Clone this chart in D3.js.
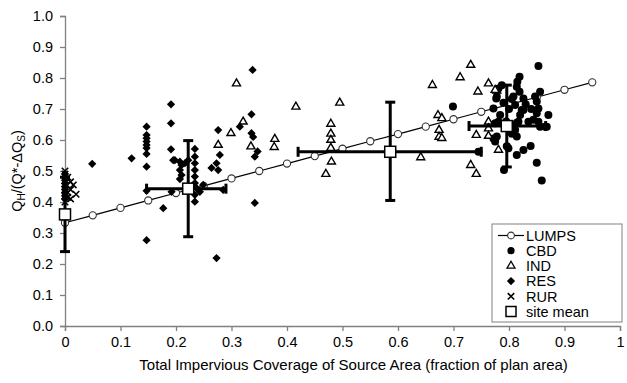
<!DOCTYPE html>
<html>
<head>
<meta charset="utf-8">
<script src="https://cdn.jsdelivr.net/npm/d3@7"></script>
<style>
  body { margin: 0; background: #fff; }
  text { font-family: "Liberation Sans", Arial, sans-serif; }
</style>
</head>
<body>
<script>
// LUMPS model curve
const lumpsX = [0, 0.05, 0.1, 0.15, 0.2, 0.25, 0.3, 0.35, 0.4, 0.45, 0.5, 0.55, 0.6, 0.65, 0.7, 0.75, 0.8, 0.85, 0.9, 0.95];
const lumpsY = [0.333, 0.357, 0.381, 0.405, 0.429, 0.452, 0.476, 0.5, 0.524, 0.548, 0.572, 0.596, 0.619, 0.643, 0.667, 0.691, 0.714, 0.738, 0.762, 0.786];

// observations [x, y]
const cbd = [
  [0.853, 0.839], [0.819, 0.804], [0.815, 0.788], [0.787, 0.777], [0.781, 0.766], [0.814, 0.772],
  [0.819, 0.756], [0.856, 0.756], [0.777, 0.734], [0.805, 0.732], [0.826, 0.734], [0.847, 0.74],
  [0.85, 0.724], [0.699, 0.708], [0.772, 0.702], [0.811, 0.713], [0.823, 0.697], [0.853, 0.702],
  [0.85, 0.686], [0.871, 0.681], [0.784, 0.681], [0.82, 0.681], [0.781, 0.659], [0.814, 0.656],
  [0.835, 0.659], [0.853, 0.659], [0.868, 0.643], [0.856, 0.643], [0.811, 0.632], [0.814, 0.611],
  [0.778, 0.611], [0.775, 0.595], [0.745, 0.562], [0.799, 0.573], [0.839, 0.581], [0.826, 0.568],
  [0.814, 0.552], [0.85, 0.527], [0.791, 0.503], [0.859, 0.469], [0.778, 0.74], [0.808, 0.74],
  [0.826, 0.697], [0.817, 0.659], [0.844, 0.665], [0.865, 0.643], [0.775, 0.654], [0.772, 0.605],
  [0.79, 0.72], [0.8, 0.7], [0.83, 0.715], [0.795, 0.66], [0.84, 0.7], [0.805, 0.62], [0.796, 0.58]
];
const ind = [
  [0.309, 0.782], [0.321, 0.659], [0.299, 0.622], [0.276, 0.584], [0.335, 0.579], [0.416, 0.707],
  [0.495, 0.72], [0.378, 0.603], [0.377, 0.577], [0.479, 0.652], [0.479, 0.62], [0.479, 0.6],
  [0.479, 0.574], [0.48, 0.53], [0.47, 0.49], [0.662, 0.777], [0.672, 0.68], [0.674, 0.632],
  [0.674, 0.61], [0.641, 0.544], [0.731, 0.842], [0.712, 0.802], [0.744, 0.756], [0.778, 0.759],
  [0.679, 0.67], [0.679, 0.606], [0.763, 0.659], [0.763, 0.637], [0.741, 0.616], [0.763, 0.613],
  [0.781, 0.568], [0.731, 0.519], [0.741, 0.49], [0.763, 0.782], [0.775, 0.761]
];
const res = [
  [0, 0.41], [0, 0.43], [0, 0.45], [0, 0.47], [0, 0.49], [0, 0.42], [0, 0.44], [0, 0.46], [0, 0.48],
  [0.049, 0.523], [0.147, 0.643], [0.147, 0.616], [0.147, 0.606], [0.147, 0.595], [0.147, 0.584],
  [0.147, 0.574], [0.147, 0.555], [0.147, 0.514], [0.147, 0.436], [0.147, 0.277], [0.12, 0.541],
  [0.191, 0.715], [0.191, 0.654], [0.191, 0.57], [0.195, 0.535], [0.198, 0.535], [0.207, 0.53],
  [0.21, 0.519], [0.207, 0.503], [0.21, 0.487], [0.207, 0.474], [0.216, 0.525], [0.222, 0.535],
  [0.234, 0.571], [0.234, 0.546], [0.234, 0.525], [0.234, 0.503], [0.234, 0.482], [0.234, 0.461],
  [0.237, 0.445], [0.243, 0.433], [0.234, 0.423], [0.234, 0.401], [0.249, 0.455], [0.192, 0.433],
  [0.177, 0.38], [0.285, 0.439], [0.276, 0.632], [0.273, 0.219], [0.342, 0.397], [0.279, 0.552],
  [0.264, 0.51], [0.273, 0.525], [0.276, 0.503], [0.342, 0.546], [0.347, 0.563], [0.336, 0.622],
  [0.339, 0.61], [0.315, 0.643], [0.336, 0.683], [0.338, 0.826]
];
const rur = [
  [0, 0.5], [0, 0.49], [0.005, 0.48], [0, 0.47], [0.01, 0.465], [0.003, 0.455], [0.015, 0.455],
  [0, 0.44], [0.01, 0.44], [0.02, 0.425], [0.005, 0.43], [0, 0.42], [0.01, 0.41], [0, 0.4], [0.005, 0.415]
];

// site means with error bars
const meanX = [0, 0.222, 0.586, 0.796];
const meanY = [0.36, 0.443, 0.562, 0.645];
const meanYLow = [0.24, 0.288, 0.405, 0.513];
const meanYHigh = [0.48, 0.598, 0.722, 0.777];
const meanXLow = [0, 0.147, 0.42, 0.728];
const meanXHigh = [0, 0.29, 0.75, 0.866];

const xTicks = [0, 0.1, 0.2, 0.3, 0.4, 0.5, 0.6, 0.7, 0.8, 0.9, 1];
const yTicks = [0, 0.1, 0.2, 0.3, 0.4, 0.5, 0.6, 0.7, 0.8, 0.9, 1];

const width = 627, height = 383;
const x = d3.scaleLinear().domain([0, 1]).range([65, 620]);
const y = d3.scaleLinear().domain([0, 1]).range([326, 16]);

const svg = d3.create("svg").attr("width", width).attr("height", height);

// axes
const gx = svg.append("g")
  .attr("transform", `translate(0,${y(0)})`)
  .call(d3.axisBottom(x).tickValues(xTicks).tickSize(5).tickPadding(6).tickFormat(d => d === 0 ? "0" : d === 1 ? "1" : d3.format(".1f")(d)));
const gy = svg.append("g")
  .attr("transform", `translate(${x(0)},0)`)
  .call(d3.axisLeft(y).tickValues(yTicks).tickSize(5).tickPadding(7).tickFormat(d3.format(".1f")));
[gx, gy].forEach(g => {
  g.select(".domain").attr("stroke", "#808080").attr("stroke-width", 1.3);
  g.selectAll(".tick line").attr("stroke", "#808080").attr("stroke-width", 1.3);
  g.selectAll(".tick text").attr("fill", "#000").style("font-size", "14.5px")
    .style("font-family", "'Liberation Sans', Arial, sans-serif");
});

// axis titles
svg.append("text")
  .attr("x", x(0.52)).attr("y", 370)
  .attr("text-anchor", "middle").style("font-size", "15px")
  .text("Total Impervious Coverage of Source Area (fraction of plan area)");
const yt = svg.append("text")
  .attr("transform", `translate(22,${y(0.5)}) rotate(-90)`)
  .attr("text-anchor", "middle").style("font-size", "14.5px");
yt.append("tspan").text("Q");
yt.append("tspan").attr("dy", 3).style("font-size", "10px").text("H");
yt.append("tspan").attr("dy", -3).text("/(Q*-ΔQ");
yt.append("tspan").attr("dy", 3).style("font-size", "10px").text("S");
yt.append("tspan").attr("dy", -3).text(")");

// marker shapes
const diamond = d3.symbol().type(d3.symbolSquare).size(34);
const tri = d3.symbol().type(d3.symbolTriangle).size(28);
const crossPath = "M-3.2,-3.2L3.2,3.2M-3.2,3.2L3.2,-3.2";

// LUMPS line
const line = d3.line().x(i => x(lumpsX[i])).y(i => y(lumpsY[i]));
svg.append("path")
  .attr("d", line(d3.range(lumpsX.length)))
  .attr("fill", "none").attr("stroke", "#000").attr("stroke-width", 1.2);
svg.append("g").selectAll("circle")
  .data(d3.range(lumpsX.length))
  .join("circle")
  .attr("cx", i => x(lumpsX[i])).attr("cy", i => y(lumpsY[i])).attr("r", 3.6)
  .attr("fill", "#fff").attr("stroke", "#333").attr("stroke-width", 1.1);

// CBD
svg.append("g").selectAll("circle")
  .data(cbd).join("circle")
  .attr("cx", d => x(d[0])).attr("cy", d => y(d[1])).attr("r", 4)
  .attr("fill", "#000");

// IND
svg.append("g").selectAll("path")
  .data(ind).join("path")
  .attr("d", tri)
  .attr("transform", d => `translate(${x(d[0])},${y(d[1])})`)
  .attr("fill", "#fff").attr("stroke", "#000").attr("stroke-width", 1.4);

// RES
svg.append("g").selectAll("path")
  .data(res).join("path")
  .attr("d", diamond)
  .attr("transform", d => `translate(${x(d[0])},${y(d[1])}) rotate(45)`)
  .attr("fill", "#000");

// RUR
svg.append("g").selectAll("path")
  .data(rur).join("path")
  .attr("d", crossPath)
  .attr("transform", d => `translate(${x(d[0])},${y(d[1])})`)
  .attr("stroke", "#000").attr("stroke-width", 1.6);

// site means + error bars
const eb = svg.append("g").attr("stroke", "#000").attr("stroke-width", 3);
meanX.forEach((mx, i) => {
  const cx = x(mx), cy = y(meanY[i]);
  eb.append("line").attr("x1", cx).attr("x2", cx).attr("y1", y(meanYLow[i])).attr("y2", y(meanYHigh[i]));
  eb.append("line").attr("x1", cx - 5).attr("x2", cx + 5).attr("y1", y(meanYLow[i])).attr("y2", y(meanYLow[i]));
  eb.append("line").attr("x1", cx - 5).attr("x2", cx + 5).attr("y1", y(meanYHigh[i])).attr("y2", y(meanYHigh[i]));
  if (meanXHigh[i] > meanXLow[i]) {
    eb.append("line").attr("x1", x(meanXLow[i])).attr("x2", x(meanXHigh[i])).attr("y1", cy).attr("y2", cy);
    eb.append("line").attr("x1", x(meanXLow[i])).attr("x2", x(meanXLow[i])).attr("y1", cy - 5).attr("y2", cy + 5);
    eb.append("line").attr("x1", x(meanXHigh[i])).attr("x2", x(meanXHigh[i])).attr("y1", cy - 5).attr("y2", cy + 5);
  }
});
svg.append("g").selectAll("rect")
  .data(meanX.map((mx, i) => [mx, meanY[i]])).join("rect")
  .attr("x", d => x(d[0]) - 5.5).attr("y", d => y(d[1]) - 5.5)
  .attr("width", 11).attr("height", 11)
  .attr("fill", "#fff").attr("stroke", "#000").attr("stroke-width", 1.5);

// legend
const lg = svg.append("g").attr("transform", "translate(492,224)");
lg.append("rect").attr("width", 130).attr("height", 98)
  .attr("fill", "#fff").attr("stroke", "#808080").attr("stroke-width", 1);
const names = ["LUMPS", "CBD", "IND", "RES", "RUR", "site mean"];
const mx0 = 19, tx0 = 34, rowY = i => 11.5 + i * 15.2;
names.forEach((n, i) => {
  const yy = rowY(i);
  const g = lg.append("g").attr("transform", `translate(${mx0},${yy})`);
  if (i === 0) {
    g.append("line").attr("x1", -13).attr("x2", 13).attr("stroke", "#000").attr("stroke-width", 1.2);
    g.append("circle").attr("r", 3.4).attr("fill", "#fff").attr("stroke", "#333").attr("stroke-width", 1.1);
  } else if (i === 1) {
    g.append("circle").attr("r", 3.6).attr("fill", "#000");
  } else if (i === 2) {
    g.append("path").attr("d", tri).attr("fill", "#fff").attr("stroke", "#000").attr("stroke-width", 1.3);
  } else if (i === 3) {
    g.append("path").attr("d", diamond).attr("transform", "rotate(45)").attr("fill", "#000");
  } else if (i === 4) {
    g.append("path").attr("d", crossPath).attr("stroke", "#000").attr("stroke-width", 1.6);
  } else {
    g.append("rect").attr("x", -5).attr("y", -5).attr("width", 10).attr("height", 10)
      .attr("fill", "#fff").attr("stroke", "#000").attr("stroke-width", 1.5);
  }
  lg.append("text").attr("x", tx0).attr("y", yy).attr("dy", "0.36em")
    .style("font-size", "14.5px").text(n);
});

document.body.appendChild(svg.node());
</script>
</body>
</html>
